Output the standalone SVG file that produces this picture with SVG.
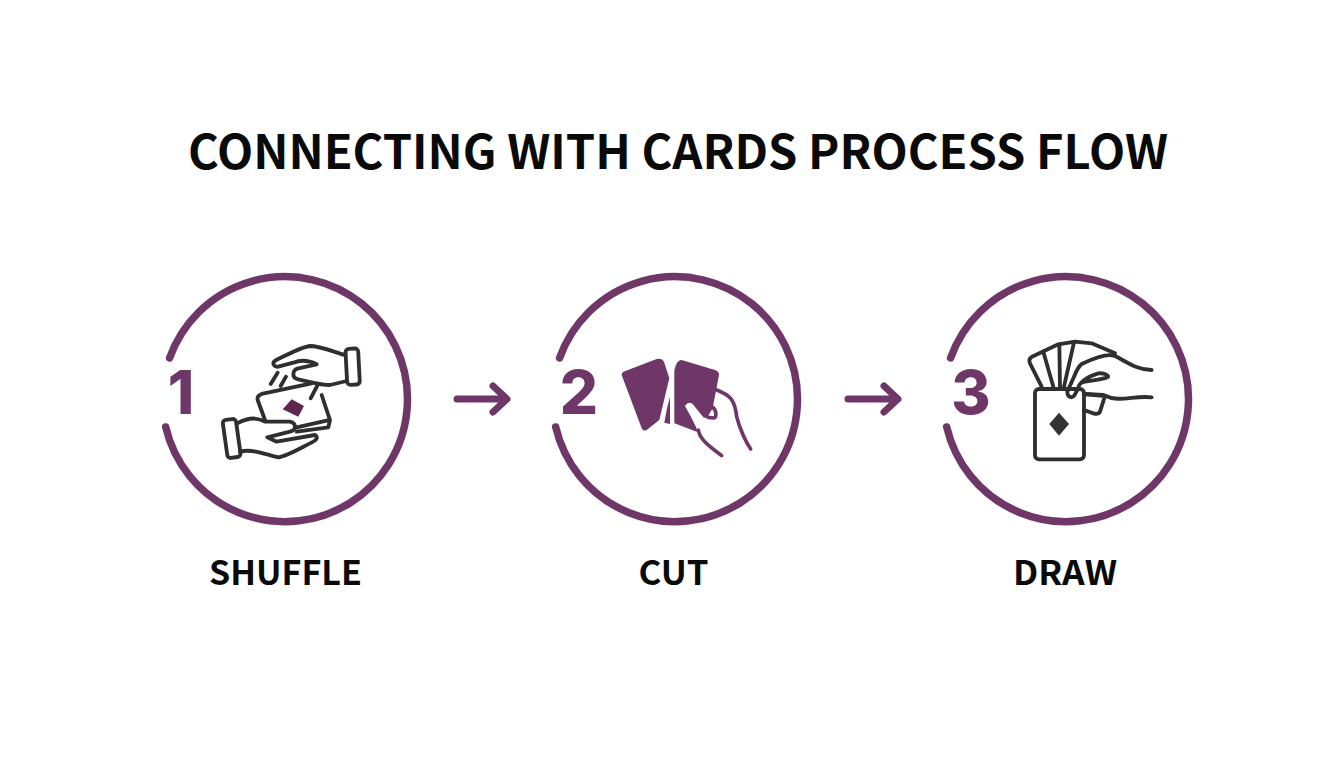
<svg xmlns="http://www.w3.org/2000/svg" width="1344" height="768" viewBox="0 0 1344 768">
<style>
.t{font-family:"Noto Sans CJK SC","Noto Sans",sans-serif;font-weight:700;fill:#0a0a0a;text-anchor:middle}
.title{font-size:47px}
.lab{font-size:34px}
.num{font-family:"Inter","Lato",sans-serif;font-weight:800;font-size:60px;fill:#6f3768;text-anchor:middle}
.ring{fill:none;stroke:#6f3768;stroke-width:7.500;stroke-linecap:round}
.ln{fill:none;stroke:#2f2f2f;stroke-width:11.500;stroke-linecap:round;stroke-linejoin:round}
.pl{fill:none;stroke:#6f3768;stroke-width:11;stroke-linecap:round;stroke-linejoin:round}
.arr{fill:none;stroke:#6f3768;stroke-width:7;stroke-linecap:round;stroke-linejoin:round}
</style>
<rect width="1344" height="768" fill="#fff"/>
<text class="t title" x="678" y="169" textLength="980" lengthAdjust="spacingAndGlyphs">CONNECTING WITH CARDS PROCESS FLOW</text>
<g id="node-shuffle">
<path class="ring" d="M169.600 358A122.500 122.500 0 1 1 165.700 427"/>
<text class="num" x="181" y="414">1</text>
<g transform="translate(150 320) scale(.3333)">
<rect class="ln" x="589" y="86" width="38" height="108" rx="10" transform="rotate(-3 608 140)"/>
<path class="ln" d="M585 105C550 95 510 78 480 78C450 82 400 110 375 122C365 130 372 142 385 140L430 128C450 120 470 118 500 133L445 145C425 150 425 175 445 178C480 185 510 195 540 195L590 183"/>
<path class="ln" d="M485 190L335 222Q320 228 323 240L345 300M515 225L540 300L535 322L440 335M540 300L440 322"/>
<path class="ln" d="M383 158L362 192M408 170L392 198M502 197L482 235"/>
<polygon points="425,238 462,258 445,290 398,268" fill="#5e2750"/>
<rect class="ln" x="225" y="298" width="40" height="115" rx="10" transform="rotate(-8 245 355)"/>
<path class="ln" d="M262 310C290 295 320 290 345 305L420 305C440 310 440 330 420 335L352 352L380 365L495 345C505 350 500 360 490 365C450 385 410 410 385 412C350 405 310 385 270 395"/>
</g>
</g>
<g id="node-cut">
<path class="ring" d="M559.600 358A122.500 122.500 0 1 1 555.700 427"/>
<text class="num" x="579" y="414">2</text>
<g transform="translate(540 330) scale(.3333)">
<path d="M245 135Q245 125 258 122L350 87Q365 83 372 95L388 145L358 270L320 300Q310 305 305 295Z" fill="#6f3768"/>
<path d="M390 200L390 282L373 278L380 240Z" fill="#6f3768"/>
<path d="M403 122Q410 88 425 90L525 120Q538 125 537 135L518 235L480 300L470 305L403 280Z" fill="#6f3768"/>
<path d="M435 228Q445 212 458 222L490 262Q505 268 530 266L560 300L545 377L480 320Q470 290 435 228Z" fill="#fff"/>
<path class="pl" d="M530 180C570 195 585 210 590 260C600 300 620 340 632 357"/>
<path class="pl" d="M475 300C480 330 510 350 545 377"/>
<path class="pl" d="M518 232C530 240 530 262 522 264L505 262"/>
</g>
</g>
<g id="node-draw">
<path class="ring" d="M950.600 358A122.500 122.500 0 1 1 946.700 427"/>
<text class="num" x="971" y="414">3</text>
<g transform="translate(930 320) scale(.3333)">
<rect class="ln" x="315" y="207" width="147" height="211" rx="12"/>
<polygon points="387,278 417,312 387,347 358,312" fill="#333"/>
<path class="ln" d="M335 200L300 130Q294 118 306 110L385 73L435 65L485 70L555 100"/>
<path class="ln" d="M370 200L340 95M390 200L388 73M402 200L432 67"/>
<path class="ln" d="M462 222L525 228L510 275Q505 285 490 280L462 270"/>
<path class="ln" d="M665 150C620 150 590 125 555 108C530 98 480 120 455 132C440 145 435 165 430 175L412 215C412 232 425 235 432 228L445 205C445 190 470 170 505 160C525 158 540 168 532 172C510 182 480 180 458 187M462 222L520 225C570 250 610 225 665 232"/>
</g>
</g>
<g id="connectors">
<path class="arr" d="M457 399H506M493 386L507 399L493 412"/>
<path class="arr" d="M848 399H897M884 386L898 399L884 412"/>
</g>
<text class="t lab" x="285.500" y="585" textLength="153" lengthAdjust="spacingAndGlyphs">SHUFFLE</text>
<text class="t lab" x="673.500" y="585" textLength="70" lengthAdjust="spacingAndGlyphs">CUT</text>
<text class="t lab" x="1065" y="585" textLength="104" lengthAdjust="spacingAndGlyphs">DRAW</text>
</svg>
